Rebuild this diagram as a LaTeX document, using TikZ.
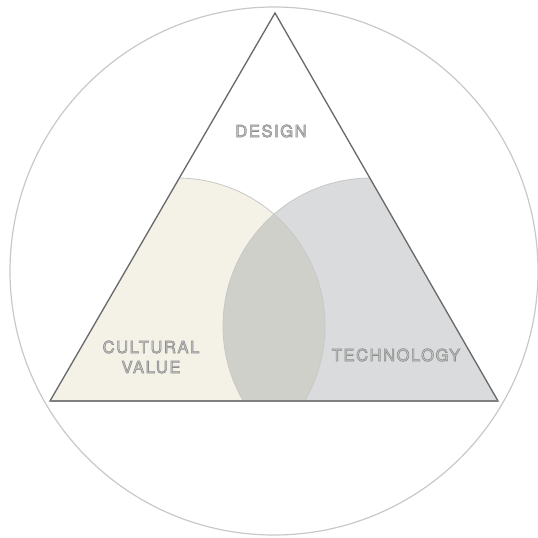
\documentclass[tikz,border=0pt]{standalone}
\usepackage{fontspec}
\setmainfont{TeX Gyre Heros}

\definecolor{culture}{HTML}{F4F1E7}
\definecolor{techno}{HTML}{D9DBDC}
\definecolor{overlap}{HTML}{D0D0CA}
\definecolor{rimgray}{HTML}{C8C8C8}
\definecolor{edgegray}{HTML}{6A6A6A}

% outlined letters: fill light, stroke grey
\newcommand{\hollow}[1]{\special{pdf:literal direct 2 Tr 0.45 w 0.55 0.55 0.55 RG}#1\special{pdf:literal direct 0 Tr}}

\begin{document}
\begin{tikzpicture}[
    x=0.75pt, y=-0.75pt,
    thick,
    label/.style={font=\fontsize{12.5}{14}\selectfont\addfontfeatures{LetterSpace=9}, text=black!22, align=center, inner sep=0pt}
]
    \useasboundingbox (0,0) rectangle (537,538);

    % Define coordinates
    \coordinate (C) at (274,271);   % centre of big circle
    \coordinate (T) at (275,13);    % apex
    \coordinate (L) at (50,401);    % bottom left
    \coordinate (R) at (498,401);   % bottom right
    \coordinate (CL) at (177,326);  % culture circle
    \coordinate (CR) at (371,326);  % technology circle

    % Outer circle
    \draw[rimgray, line width=0.9pt] (C) circle (264);

    % Circles inside the triangle
    \begin{scope}
        \clip (T) -- (L) -- (R) -- cycle;
        \fill[culture] (CL) circle (148);
        \fill[techno] (CR) circle (148);
        \begin{scope}
            \clip (CL) circle (148);
            \fill[overlap] (CR) circle (148);
        \end{scope}
        \draw[rimgray, line width=0.6pt] (CL) circle (148);
        \draw[rimgray, line width=0.6pt] (CR) circle (148);
    \end{scope}

    % Triangle
    \draw[edgegray, line width=1pt, line join=miter] (T) -- (L) -- (R) -- cycle;
    \draw[black!50, line width=1.4pt] (L) -- (R);

    % Labels
    \node[label] (design) at (271,131) {\hollow{DESIGN}};
    \node[label] (culture) at (151,357) {\hollow{CULTURAL}\\[1pt]\hollow{VALUE}};
    \node[label] (tech) at (396,355) {\hollow{TECHNOLOGY}};

\end{tikzpicture}
\end{document}
